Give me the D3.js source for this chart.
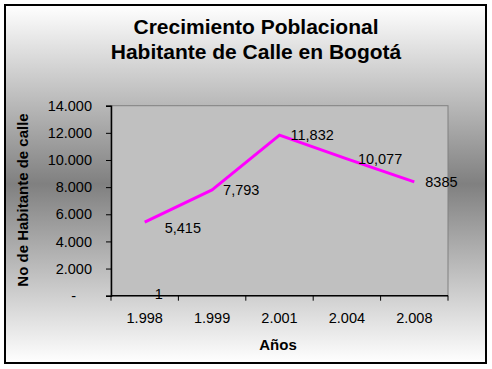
<!DOCTYPE html>
<html><head><meta charset="utf-8">
<script src="https://cdn.jsdelivr.net/npm/d3@7/dist/d3.min.js"></script>
<style>html,body{margin:0;padding:0;background:#fff;}svg{display:block;}text{font-family:"Liberation Sans",Arial,sans-serif;}</style>
</head><body><svg id="c" width="492" height="369"></svg>
<script>
const categories = ["1.998", "1.999", "2.001", "2.004", "2.008"];
const values = [5415, 7793, 11832, 10077, 8385];
const valueLabels = ["5,415", "7,793", "11,832", "10,077", "8385"];
const yTicks = [0, 2000, 4000, 6000, 8000, 10000, 12000, 14000];
const strayValues = [1];
const titleLines = ["Crecimiento Poblacional", "Habitante de Calle en Bogotá"];
const xTitle = "Años";
const yTitle = "No de Habitante de calle";

const svg = d3.select("#c");
const defs = svg.append("defs");
const g = defs.append("linearGradient").attr("id","bg").attr("x1",0).attr("y1",0).attr("x2",0).attr("y2",1);
g.append("stop").attr("offset","0%").attr("stop-color","#ffffff");
g.append("stop").attr("offset","50%").attr("stop-color","#808080");
g.append("stop").attr("offset","100%").attr("stop-color","#ffffff");

svg.append("rect").attr("x",5).attr("y",5).attr("width",481).attr("height",358)
  .attr("fill","url(#bg)").attr("stroke","#000").attr("stroke-width",2);

const L = 111, R = 448, T = 105.7, B = 295.7;
const FS = 14.5;
const x = d3.scaleBand().domain(categories).range([L, R]);
const y = d3.scaleLinear().domain([0, 14000]).range([B, T]);

svg.append("rect").attr("x",L).attr("y",T).attr("width",R-L).attr("height",B-T)
  .attr("fill","#c0c0c0").attr("stroke","#808080").attr("stroke-width",1);

// stray label (under axis)
svg.selectAll(".stray").data(strayValues).enter().append("text")
  .attr("x", x(categories[0]) + x.bandwidth()/2 + 14).attr("y", d => y(d) + 3)
  .attr("text-anchor","middle").attr("font-size",FS).attr("fill","#000").text(d => d);

// Y axis
const yAxis = svg.append("g").attr("transform",`translate(${L},0)`)
  .call(d3.axisLeft(y).tickValues(yTicks).tickSize(5).tickPadding(14)
    .tickFormat(d => d === 0 ? "-" : d3.format(",")(d).replace(/,/g, ".")));
yAxis.select(".domain").attr("stroke","#000").attr("stroke-width",1.5);
yAxis.selectAll(".tick line").attr("stroke","#000");
yAxis.selectAll(".tick text").attr("font-size",FS).attr("fill","#000")
  .attr("font-family","Liberation Sans, Arial, sans-serif")
  .attr("dx", d => d === 0 ? -16 : 0);

// X axis
const xAxis = svg.append("g").attr("transform",`translate(0,${B})`)
  .call(d3.axisBottom(x).tickSize(0).tickPadding(17));
xAxis.select(".domain").remove();
xAxis.append("line").attr("x1",L).attr("x2",R).attr("stroke","#000").attr("stroke-width",1.5);
xAxis.selectAll(".tick text").attr("font-size",FS).attr("fill","#000")
  .attr("font-family","Liberation Sans, Arial, sans-serif");
const xEdges = categories.map(c => x(c)).concat([R]);
xAxis.selectAll(".edge").data(xEdges).enter().append("line")
  .attr("x1", d => d).attr("x2", d => d).attr("y1", 0).attr("y2", 5).attr("stroke","#000");

// Line
const cx = d => x(d.c) + x.bandwidth()/2;
const pts = categories.map((c,i) => ({c, v: values[i], l: valueLabels[i]}));
svg.append("path").datum(pts)
  .attr("d", d3.line().x(cx).y(d => y(d.v)))
  .attr("fill","none").attr("stroke","#ff00ff").attr("stroke-width",3).attr("stroke-linejoin","round");

svg.selectAll(".lbl").data(pts).enter().append("text")
  .attr("x", (d,i) => cx(d) + (i === 0 ? 20 : 11)).attr("y", (d,i) => y(d.v) + (i === 0 ? 6 : 0))
  .attr("dy","0.35em").attr("font-size",FS).attr("fill","#000").text(d => d.l);

// Titles
svg.selectAll(".title").data(titleLines).enter().append("text")
  .attr("x", 256).attr("y", (d,i) => 34 + i*25)
  .attr("text-anchor","middle").attr("font-size",21).attr("font-weight","bold").attr("fill","#000").text(d => d);

svg.append("text").attr("x", 278).attr("y", 350).attr("text-anchor","middle")
  .attr("font-size",15).attr("font-weight","bold").text(xTitle);
svg.append("text").attr("transform","translate(28,200) rotate(-90)").attr("text-anchor","middle")
  .attr("font-size",15).attr("font-weight","bold").text(yTitle);
</script></body></html>
